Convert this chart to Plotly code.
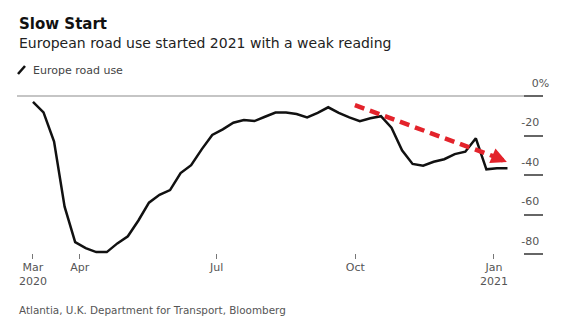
import plotly.graph_objects as go
import pandas as pd

# ---- data (weekly readings, % change) ----
dates = pd.date_range("2020-03-01", periods=46, freq="7D")
road_use = [-3, -8.3, -23, -56, -74, -77, -79, -79, -74.6, -71,
            -63, -54, -50, -47.6, -39, -35, -27, -19.7, -16.9, -13.5,
            -12.2, -12.7, -10.5, -8.4, -8.4, -9.1, -10.8, -8.5, -5.7, -8.5,
            -10.8, -12.7, -11.3, -10.2, -16, -27.5, -34.4, -35.3, -33.3, -32,
            -29.4, -28.2, -21.4, -37.1, -36.6, -36.6]

x_tickvals = ["2020-03-01", "2020-04-01", "2020-07-01", "2020-10-01", "2021-01-01"]
x_ticktext = ["Mar<br>2020", "Apr", "Jul", "Oct", "Jan<br>2021"]
y_tickvals = [-80, -60, -40, -20, 0]
y_ticktext = ["-80", "-60", "-40", "-20", "\u2007\u20080%"]

arrow_start = ("2020-09-30 17:00", -4.6)
arrow_end = ("2021-01-09 14:00", -33.4)
arrow_mid = ("2021-01-01 00:00", -30.6)

title = "<b>Slow Start</b>"
subtitle = "European road use started 2021 with a weak reading"
series_name = "Europe road use"
source = "Atlantia, U.K. Department for Transport, Bloomberg"

FONT = "DejaVu Sans"

fig = go.Figure()
fig.add_trace(go.Scatter(
    x=dates, y=road_use, mode="lines", name=series_name,
    line=dict(color="#111111", width=2.5), showlegend=False,
))

# plot area: x 17..523 px, y 90..259 px
W, H = 569, 333
L, R, T, B = 17, 46, 90, 74
pw = W - L - R
ph = H - T - B

def px(xp):
    return (xp - L) / pw

def py(yp):
    return (H - B - yp) / ph

fig.update_layout(
    width=W, height=H,
    margin=dict(l=L, r=R, t=T, b=B),
    paper_bgcolor="white", plot_bgcolor="white",
    font=dict(family=FONT, size=11, color="#444"),
    xaxis=dict(
        type="date",
        range=["2020-02-19 09:36", "2021-01-20 07:12"],
        tickvals=x_tickvals, ticktext=x_ticktext,
        ticks="inside", ticklen=5, tickcolor="#777", tickwidth=1,
        showgrid=False, showline=False, zeroline=False,
        tickfont=dict(family=FONT, size=11, color="#555"),
    ),
    yaxis=dict(
        range=[-82.5, 3.04], side="right",
        tickvals=y_tickvals, ticktext=y_ticktext,
        ticks="outside", ticklen=19, tickcolor="#666", tickwidth=1.5,
        ticklabelstandoff=-24, ticklabelshift=-13,
        showgrid=False, showline=False, zeroline=False,
        tickfont=dict(family=FONT, size=11, color="#555"),
    ),
)

# zero line spanning to the right edge of the tick marks
fig.add_shape(type="line", xref="paper", yref="y", x0=0, x1=px(542), y0=0, y1=0,
              line=dict(color="#8c8c8c", width=1.2), layer="below")

# red dashed trend arrow
fig.add_shape(type="line", xref="x", yref="y",
              x0=arrow_start[0], y0=arrow_start[1], x1=arrow_mid[0], y1=arrow_mid[1],
              line=dict(color="#e3232b", width=4.5, dash="10px,6px"))
fig.add_annotation(x=arrow_end[0], y=arrow_end[1], ax=arrow_mid[0], ay=arrow_mid[1],
                   xref="x", yref="y", axref="x", ayref="y", text="",
                   showarrow=True, arrowhead=2, arrowsize=0.7, arrowwidth=4.5,
                   arrowcolor="#e3232b")

# titles
fig.add_annotation(xref="paper", yref="paper", x=0, y=py(24), xanchor="left", yanchor="middle",
                   text=title, showarrow=False, font=dict(family=FONT, size=15, color="#111"))
fig.add_annotation(xref="paper", yref="paper", x=0, y=py(43), xanchor="left", yanchor="middle",
                   text=subtitle, showarrow=False, font=dict(family=FONT, size=14, color="#222"))

# legend
fig.add_shape(type="line", xref="paper", yref="paper", x0=px(18), y0=py(74), x1=px(25), y1=py(66),
              line=dict(color="#111", width=2.5))
fig.add_annotation(xref="paper", yref="paper", x=px(31), y=py(70), xanchor="left", yanchor="middle",
                   text=series_name, showarrow=False, font=dict(family=FONT, size=11, color="#444"))

# source
fig.add_annotation(xref="paper", yref="paper", x=0, y=py(310), xanchor="left", yanchor="middle",
                   text=source, showarrow=False, font=dict(family=FONT, size=10.4, color="#555"))

fig.write_html("out.html")
